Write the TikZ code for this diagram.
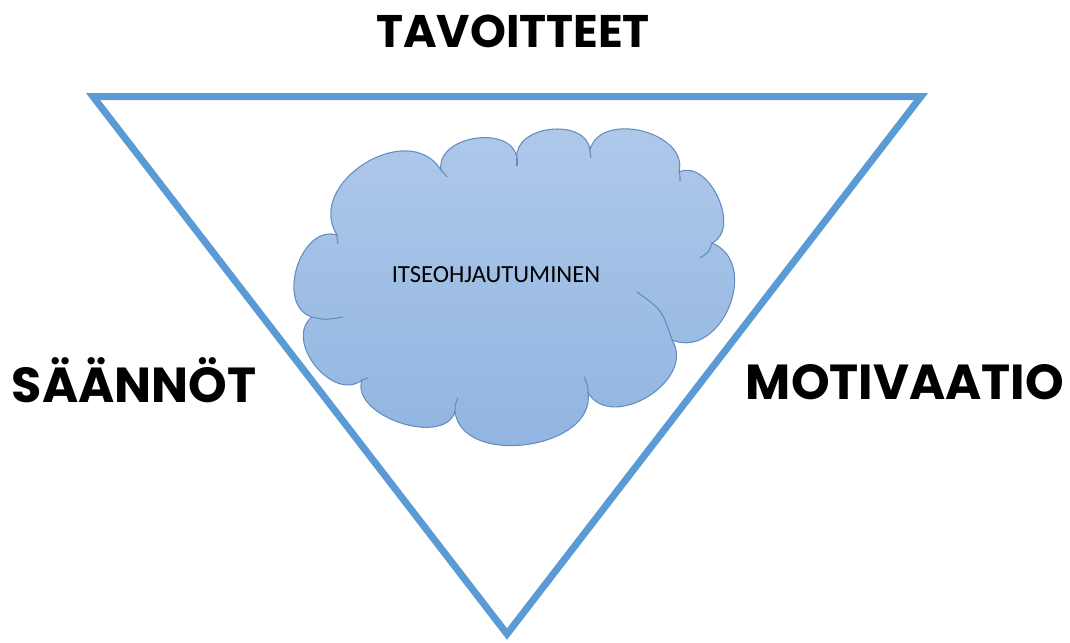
\documentclass[tikz,border=0pt]{standalone}
\usepackage{xcolor}
\usepackage{fontspec}
\usepackage{tikz}
\usetikzlibrary{calc}

\newfontfamily\headfont{Poppins}
\newfontfamily\cloudfont{Carlito}

\begin{document}
\begin{tikzpicture}[x=0.02cm,y=-0.02cm]
% Define colours
\definecolor{framecol}{RGB}{91,155,213}     % Office blue
\definecolor{cloudtop}{RGB}{176,201,234}    % Light cloud blue
\definecolor{cloudbot}{RGB}{143,180,224}    % Darker cloud blue
\definecolor{cloudline}{RGB}{98,140,194}    % Cloud outline

\tikzset{
  framestyle/.style={draw=framecol,line width=7*0.02cm,line join=miter},
  cloudstyle/.style={draw=cloudline,line width=0.6pt,top color=cloudtop,bottom color=cloudbot},
  tailstyle/.style={draw=cloudline,line width=0.6pt},
  headlabel/.style={anchor=base,inner sep=0pt,font=\headfont\bfseries\fontsize{28}{30}\selectfont},
  cloudlabel/.style={anchor=base,inner sep=0pt,font=\cloudfont\fontsize{14}{16}\selectfont}
}

\useasboundingbox (0,0) rectangle (1070,642);

% Triangle corners
\coordinate (tl) at (93,96.5);
\coordinate (tr) at (921,96.5);
\coordinate (bt) at (507,634);

% Cloud joints
\coordinate (j1) at (337,235);
\coordinate (j2) at (312,317);
\coordinate (j3) at (362,380);
\coordinate (j4) at (455,412);
\coordinate (j5) at (588,393);
\coordinate (j6) at (672,340);
\coordinate (j7) at (712,243);
\coordinate (j8) at (679,172);
\coordinate (j9) at (590,150);
\coordinate (j10) at (517,158);
\coordinate (j11) at (441,170);

% Draw triangle
\draw[framestyle] (tl) -- (tr) -- (bt) -- cycle;

% Draw cloud
\path[cloudstyle] (j1)
  \foreach \a/\b/\f in {j1/j2/0.45,j2/j3/0.46,j3/j4/0.38,j4/j5/0.42,j5/j6/0.47,
                        j6/j7/0.51,j7/j8/0.42,j8/j9/0.45,j9/j10/0.45,j10/j11/0.45,j11/j1/0.50}
  { .. controls ($(\a)!\f!-90:(\b)$) and ($(\b)!\f!90:(\a)$) .. (\b) } -- cycle;

% Inner puff lines
\draw[tailstyle] (j6) .. controls (662,310) .. (637,292);
\draw[tailstyle] (j7) .. controls (709,252) .. (700,258);
\draw[tailstyle] (j5) .. controls (588,386) .. (584,377);
\draw[tailstyle] (j4) .. controls (455,405) .. (458,398);
\draw[tailstyle] (j3) .. controls (362,380) .. (368,378);
\draw[tailstyle] (j2) .. controls (325,320) .. (343,317);
\draw[tailstyle] (j1) .. controls (337,238) .. (338,244);
\draw[tailstyle] (j11) .. controls (443,172) .. (447,177);
\draw[tailstyle] (j10) .. controls (517,160) .. (517,166);
\draw[tailstyle] (j9) .. controls (590,152) .. (591,158);
\draw[tailstyle] (j8) .. controls (680,174) .. (680,181);

% Labels
\node[headlabel,font=\headfont\bfseries\fontsize{26}{28}\selectfont] (goals) at (513,48) {TAVOITTEET};
\node[headlabel] (rules) at (134,402) {SÄÄNNÖT};
\node[headlabel] (motiv) at (905,399) {MOTIVAATIO};
\node[cloudlabel] (self) at (496,282) {ITSEOHJAUTUMINEN};
\end{tikzpicture}
\end{document}
